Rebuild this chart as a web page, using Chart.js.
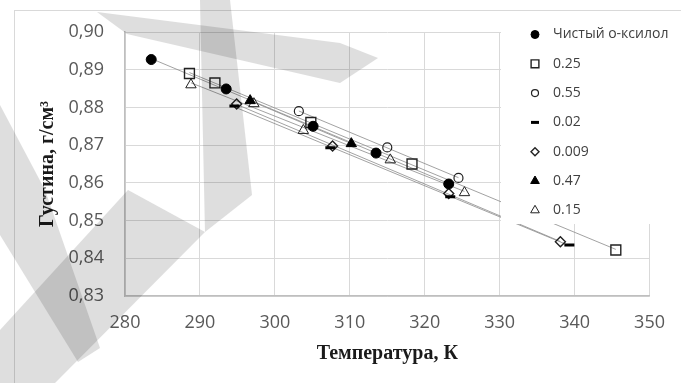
<!DOCTYPE html>
<html>
<head>
<meta charset="utf-8">
<script src="https://cdn.jsdelivr.net/npm/chart.js@4.4.1/dist/chart.umd.min.js"></script>
<style>
  html, body { margin: 0; padding: 0; background: #fff; }
  #wrap { width: 681px; height: 383px; position: relative; }
</style>
</head>
<body>
<div id="wrap"><canvas id="myChart" width="681" height="383"></canvas></div>
<script>
// series labels (mole fractions), as in the legend
const seriesLabels = ['Чистый о-ксилол', '0.25', '0.55', '0.02', '0.009', '0.47', '0.15'];

// temperature, K  /  density, g/cm3
const tempPure = [283.5, 293.5, 305.1, 313.5, 323.2];
const densPure = [0.8927, 0.8849, 0.8750, 0.8679, 0.8597];
const temp025 = [288.6, 292.0, 304.8, 318.3, 345.5];
const dens025 = [0.8890, 0.8865, 0.8760, 0.8650, 0.8422];
const temp055 = [303.2, 315.0, 324.5];
const dens055 = [0.8790, 0.8694, 0.8613];
const temp002 = [294.6, 307.4, 323.4, 339.3];
const dens002 = [0.8804, 0.8693, 0.8563, 0.8435];
const temp0009 = [294.9, 307.7, 323.2, 338.1];
const dens0009 = [0.8809, 0.8698, 0.8572, 0.8444];
const temp047 = [296.7, 310.2];
const dens047 = [0.8818, 0.8704];
const temp015 = [288.8, 297.2, 303.8, 315.4, 325.3];
const dens015 = [0.8860, 0.8810, 0.8739, 0.8661, 0.8574];

// axis ticks
const xTicks = [280, 290, 300, 310, 320, 330, 340, 350];
const yTicks = [0.83, 0.84, 0.85, 0.86, 0.87, 0.88, 0.89, 0.90];

const allTemps = [tempPure, temp025, temp055, temp002, temp0009, temp047, temp015];
const allDens = [densPure, dens025, dens055, dens002, dens0009, dens047, dens015];

// marker look per series
const markers = [
  { pointStyle: 'circle', radius: 5, bg: '#000', border: '#000', bw: 1, lr: 4 },
  { pointStyle: 'rect', radius: 7, bg: 'transparent', border: '#222', bw: 1.4, lr: 5.5 },
  { pointStyle: 'circle', radius: 4.5, bg: 'transparent', border: '#222', bw: 1.2, lr: 3.5 },
  { pointStyle: 'line', radius: 5, bg: '#000', border: '#000', bw: 3, lr: 4 },
  { pointStyle: 'rectRot', radius: 5, bg: 'transparent', border: '#222', bw: 1.4, lr: 4 },
  { pointStyle: 'triangle', radius: 6, bg: '#000', border: '#000', bw: 1, lr: 5 },
  { pointStyle: 'triangle', radius: 6, bg: 'transparent', border: '#222', bw: 1, lr: 5 }
];

function pts(xs, ys) {
  return xs.map((x, i) => ({ x: x, y: ys[i] }));
}

// linear trend line between the lowest and highest temperature of a series
function trend(xs, ys) {
  const n = xs.length;
  const mx = xs.reduce((a, b) => a + b, 0) / n;
  const my = ys.reduce((a, b) => a + b, 0) / n;
  let sxy = 0, sxx = 0;
  for (let i = 0; i < n; i++) {
    sxy += (xs[i] - mx) * (ys[i] - my);
    sxx += (xs[i] - mx) * (xs[i] - mx);
  }
  const k = sxy / sxx;
  const b = my - k * mx;
  const x0 = Math.min(...xs), x1 = Math.max(...xs);
  return [{ x: x0, y: k * x0 + b }, { x: x1, y: k * x1 + b }];
}

const datasets = [];
seriesLabels.forEach((lbl, i) => {
  datasets.push({
    label: 'trend ' + lbl,
    data: trend(allTemps[i], allDens[i]),
    showLine: true,
    borderColor: '#8a8a8a',
    borderWidth: 0.8,
    pointRadius: 0,
    order: 10,
    isTrend: true
  });
});
seriesLabels.forEach((lbl, i) => {
  const m = markers[i];
  datasets.push({
    label: lbl,
    data: pts(allTemps[i], allDens[i]),
    showLine: false,
    pointStyle: m.pointStyle,
    pointRadius: m.radius,
    pointHoverRadius: m.radius,
    backgroundColor: m.bg,
    borderColor: m.border,
    borderWidth: m.bw,
    order: 1,
    legendRadius: m.lr
  });
});

// white page + thin outer frame
const framePlugin = {
  id: 'frame',
  beforeDraw(chart) {
    const ctx = chart.ctx;
    ctx.save();
    ctx.fillStyle = '#fff';
    ctx.fillRect(0, 0, chart.width, chart.height);
    ctx.strokeStyle = '#d9d9d9';
    ctx.lineWidth = 1;
    ctx.strokeRect(14.5, 10.5, 700, 400);
    ctx.restore();
  }
};

// legend box sitting over the top right of the plot
const legendBoxPlugin = {
  id: 'legendBox',
  afterDatasetsDraw(chart) {
    const ctx = chart.ctx;
    ctx.save();
    ctx.fillStyle = '#fff';
    ctx.fillRect(501, 14, 181, 210);
    let y = 34.5;
    chart.data.datasets.forEach(ds => {
      if (ds.isTrend) return;
      ctx.fillStyle = ds.backgroundColor;
      ctx.strokeStyle = ds.borderColor;
      ctx.lineWidth = ds.borderWidth;
      Chart.helpers.drawPoint(ctx, {
        pointStyle: ds.pointStyle, radius: ds.legendRadius, rotation: 0, borderWidth: ds.borderWidth
      }, 535, y);
      ctx.fillStyle = '#404040';
      ctx.font = '14px "Open Sans"';
      ctx.textBaseline = 'middle';
      ctx.fillText(ds.label, 553, y);
      y += 29.3;
    });
    ctx.restore();
  }
};

// faint watermark strokes over the figure
const watermarkPlugin = {
  id: 'watermark',
  afterDraw(chart) {
    const ctx = chart.ctx;
    const shapes = [
      [[97, 12], [340, 43], [378, 58], [340, 83], [127, 34]],
      [[200, 0], [230, 0], [252, 195], [205, 232]],
      [[0, 330], [128, 190], [205, 232], [55, 383], [0, 383]],
      [[0, 105], [45, 190], [100, 348], [78, 362], [0, 235]]
    ];
    ctx.save();
    ctx.globalCompositeOperation = 'multiply';
    ctx.fillStyle = '#dedede';
    shapes.forEach(s => {
      ctx.beginPath();
      s.forEach((p, i) => i ? ctx.lineTo(p[0], p[1]) : ctx.moveTo(p[0], p[1]));
      ctx.closePath();
      ctx.fill();
    });
    ctx.restore();
  }
};

Chart.defaults.font.family = '"Open Sans"';

const config = {
  type: 'scatter',
  data: { datasets: datasets },
  options: {
    responsive: false,
    animation: false,
    layout: { padding: { top: 32, right: 19, left: 0, bottom: 0 } },
    plugins: {
      legend: { display: false },
      tooltip: { enabled: false }
    },
    scales: {
      x: {
        type: 'linear',
        min: xTicks[0],
        max: xTicks[xTicks.length - 1],
        afterFit: s => { s.height = 87; },
        afterBuildTicks: s => { s.ticks = xTicks.map(v => ({ value: v })); },
        ticks: { color: '#595959', font: { size: 18 }, padding: 16 },
        grid: { color: '#d9d9d9', drawTicks: false },
        border: { color: '#bfbfbf', width: 1.5 },
        title: {
          display: true,
          text: 'Температура, К',
          color: '#1a1a1a',
          font: { family: '"Liberation Serif"', size: 20, weight: 'bold' },
          padding: { top: 0, bottom: 17 }
        }
      },
      y: {
        type: 'linear',
        min: yTicks[0],
        max: yTicks[yTicks.length - 1],
        afterFit: s => { s.width = 125; },
        afterBuildTicks: s => { s.ticks = yTicks.map(v => ({ value: v })); },
        ticks: {
          color: '#595959',
          font: { size: 18 },
          padding: 21,
          callback: v => v.toFixed(2).replace('.', ',')
        },
        grid: { color: '#d9d9d9', drawTicks: false },
        border: { color: '#bfbfbf', width: 1.5 },
        title: {
          display: true,
          text: 'Густина, г/см³',
          color: '#1a1a1a',
          font: { family: '"Liberation Serif"', size: 20, weight: 'bold' },
          padding: { top: 36, bottom: 0 }
        }
      }
    }
  },
  plugins: [framePlugin, legendBoxPlugin, watermarkPlugin]
};

var myChart = new Chart(document.getElementById('myChart'), config);
</script>
</body>
</html>
